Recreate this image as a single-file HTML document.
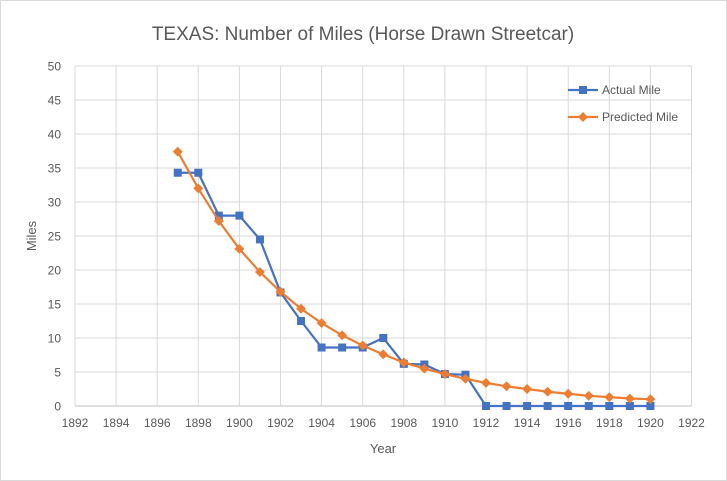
<!DOCTYPE html>
<html><head><meta charset="utf-8"><style>
html,body{margin:0;padding:0;background:#fff}
svg{display:block;font-family:"Liberation Sans",sans-serif}
</style></head><body>
<svg id="c" width="727" height="481" xmlns="http://www.w3.org/2000/svg">
<rect x="0.5" y="0.5" width="726" height="480" fill="#fff" stroke="#d9d9d9"/>
<text x="363" y="40" text-anchor="middle" font-size="19" fill="#595959">TEXAS: Number of Miles (Horse Drawn Streetcar)</text>
<g id="grid"></g>
<text x="36" y="236" transform="rotate(-90 36 236)" text-anchor="middle" font-size="13" fill="#595959">Miles</text>
<text x="383" y="453" text-anchor="middle" font-size="13" fill="#595959">Year</text>
<g id="ser"></g>
<g font-size="12" fill="#595959">
<line x1="568" y1="90" x2="598" y2="90" stroke="#4472c4" stroke-width="2.2"/>
<rect x="579" y="86" width="8" height="8" fill="#4472c4"/>
<text x="602" y="94">Actual Mile</text>
<line x1="568" y1="117" x2="598" y2="117" stroke="#ed7d31" stroke-width="2.2"/>
<rect x="579.5" y="113.5" width="7" height="7" fill="#ed7d31" transform="rotate(45 583 117)"/>
<text x="602" y="121">Predicted Mile</text>
</g>
</svg>
<script>
var NS="http://www.w3.org/2000/svg";
function X(y){return 75+(y-1892)*20.55}
function Y(v){return 406-6.8*v}
var g=document.getElementById('grid'),h='';
for(var v=0;v<=50;v+=5){h+='<line x1="75" x2="691.5" y1="'+Y(v)+'" y2="'+Y(v)+'" stroke="'+(v==0?'#bfbfbf':'#d9d9d9')+'"/>';
h+='<text x="61" y="'+(Y(v)+4.5)+'" text-anchor="end" font-size="12" fill="#595959">'+v+'</text>';}
for(var y=1892;y<=1922;y+=2){h+='<line y1="66" y2="406" x1="'+X(y)+'" x2="'+X(y)+'" stroke="#d9d9d9"/>';
h+='<text x="'+X(y)+'" y="427" text-anchor="middle" font-size="12" fill="#595959">'+y+'</text>';}
g.innerHTML=h;
var A=[34.3,34.3,28,28,24.5,16.7,12.5,8.6,8.6,8.6,10,6.2,6.1,4.7,4.6,0,0,0,0,0,0,0,0,0];
var P=[37.4,32,27.2,23.1,19.7,16.8,14.3,12.2,10.4,8.9,7.6,6.4,5.5,4.7,4.0,3.4,2.9,2.5,2.1,1.8,1.5,1.3,1.1,1.0];
var s='';
function line(d,c){var p=d.map(function(v,i){return X(1897+i)+','+Y(v)}).join(' ');return '<polyline points="'+p+'" fill="none" stroke="'+c+'" stroke-width="2.2"/>';}
s+=line(A,'#4472c4');
A.forEach(function(v,i){s+='<rect x="'+(X(1897+i)-4)+'" y="'+(Y(v)-4)+'" width="8" height="8" fill="#4472c4"/>';});
s+=line(P,'#ed7d31');
P.forEach(function(v,i){var x=X(1897+i),y=Y(v);s+='<rect x="'+(x-3.5)+'" y="'+(y-3.5)+'" width="7" height="7" fill="#ed7d31" transform="rotate(45 '+x+' '+y+')"/>';});
document.getElementById('ser').innerHTML=s;
</script>
</body></html>
